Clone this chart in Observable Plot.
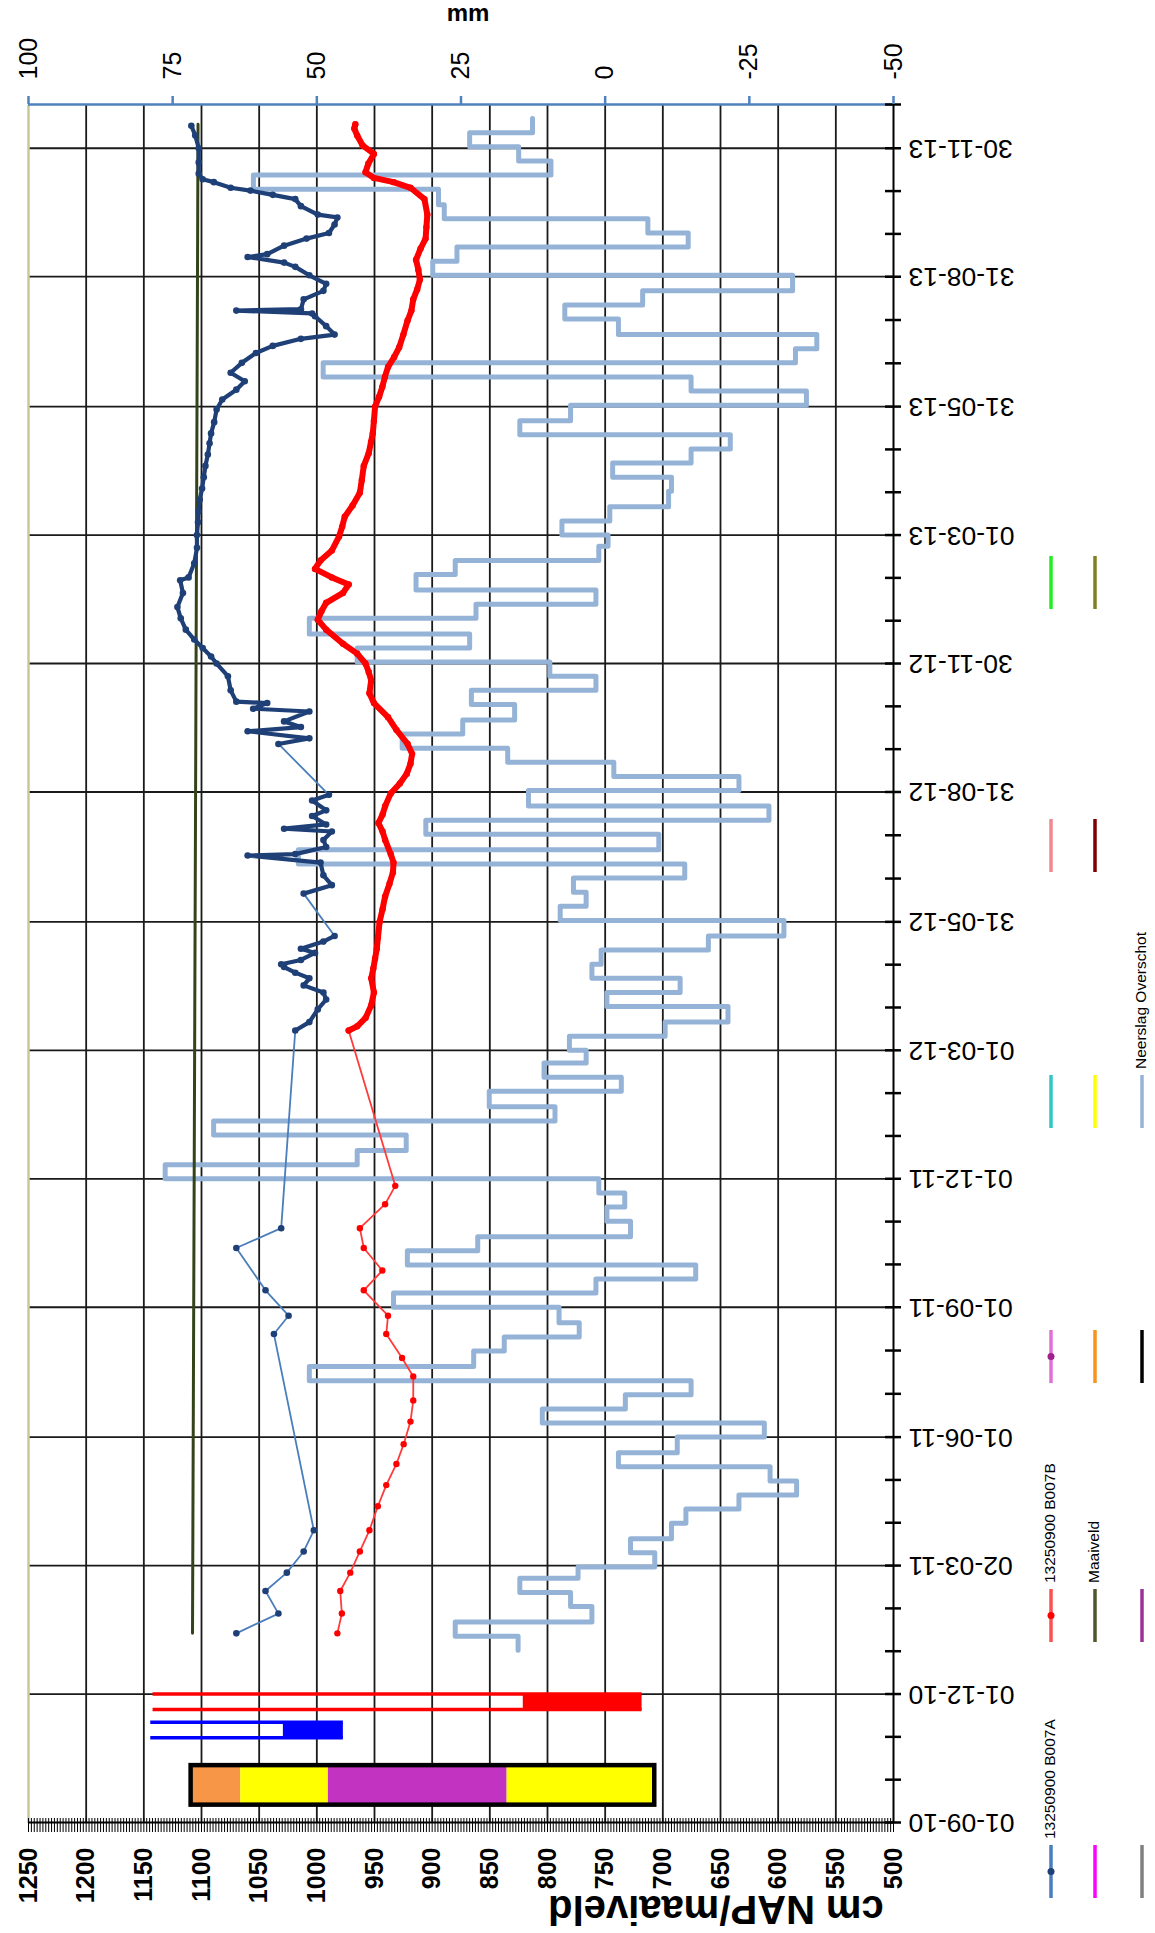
<!DOCTYPE html>
<html><head><meta charset="utf-8">
<script src="https://cdn.jsdelivr.net/npm/d3@7"></script>
<script src="https://cdn.jsdelivr.net/npm/@observablehq/plot@0.6"></script>
<style>
html,body{margin:0;padding:0;background:#fff;overflow:hidden;width:1155px;height:1933px}
#rot{position:absolute;left:0;top:0;width:1933px;height:1155px;transform-origin:0 0;transform:translate(0px,1933px) rotate(-90deg);background:#fff}
#chart svg{display:block}
#legend{position:absolute;left:0;top:1030px}
</style></head><body>
<div id="rot"><div id="chart"></div><svg id="legend" width="1933" height="125"></svg></div>
<script>
// ---------- data ----------
const cmTicks = [1250,1200,1150,1100,1050,1000,950,900,850,800,750,700,650,600,550,500];
const mmTicks = [100,75,50,25,0,-25,-50];
const dateDomain = ["2010-09-01","2013-12-31"];
const majorDates = ["2010-09-01","2010-12-01","2011-03-02","2011-06-01","2011-09-01","2011-12-01","2012-03-01","2012-05-31","2012-08-31","2012-11-30","2013-03-01","2013-05-31","2013-08-31","2013-11-30"];

const B007A = [["2011-01-13",1069.8],["2011-01-27",1033.3],["2011-02-12",1044.5],["2011-02-25",1026.0],["2011-03-12",1011.4],["2011-03-27",1002.6],
["2011-08-13",1037.2],["2011-08-26",1024.5],["2011-09-13",1044.5],["2011-10-13",1069.8],["2011-10-27",1030.9],
["2012-03-15",1018.7],["2012-03-21",1006.5],["2012-03-30",999.2],["2012-04-06",991.9],["2012-04-11",994.3],["2012-04-16",1011.4],["2012-04-21",1006.5],["2012-04-25",1018.7],["2012-04-29",1028.4],["2012-05-01",1030.9],["2012-05-04",1013.8],["2012-05-09",1001.6],["2012-05-12",1013.8],["2012-05-17",994.3],["2012-05-21",984.6],
["2012-06-20",1011.4],["2012-06-26",987.0],["2012-07-03",994.3],["2012-07-12",996.8],["2012-07-17",1060.0],["2012-07-18",1018.7],["2012-07-23",991.9],["2012-07-28",994.3],["2012-08-03",987.0],["2012-08-05",1028.4],["2012-08-08",991.9],["2012-08-14",1004.1],["2012-08-18",991.9],["2012-08-25",1004.1],["2012-08-29",989.5],
["2012-10-04",1033.3],["2012-10-08",1006.5],["2012-10-13",1060.0],["2012-10-16",1013.8],["2012-10-20",1028.4],["2012-10-27",1006.5],["2012-10-29",1055.2],["2012-11-02",1043.0],["2012-11-03",1069.8],["2012-11-11",1074.7],["2012-11-21",1077.1],["2012-11-30",1086.9],["2012-12-05",1091.7],["2012-12-11",1099.0],["2012-12-17",1106.3],["2012-12-24",1113.6],["2013-01-01",1118.0],["2013-01-09",1120.9],["2013-01-19",1116.1],["2013-01-28",1118.5],["2013-01-30",1111.2],["2013-02-09",1106.3],["2013-02-20",1103.9],["2013-03-01",1104.0],["2013-03-10",1103.0],["2013-03-18",1102.5],["2013-03-26",1101.5],["2013-04-03",1099.5],["2013-04-11",1098.0],["2013-04-19",1096.6],["2013-04-27",1094.5],["2013-05-05",1093.0],["2013-05-12",1091.7],["2013-05-20",1089.0],["2013-05-29",1086.9],["2013-06-05",1082.0],["2013-06-12",1069.8],["2013-06-18",1062.5],["2013-06-24",1074.7],["2013-07-01",1065.0],["2013-07-08",1052.8],["2013-07-13",1038.2],["2013-07-18",1013.8],["2013-07-21",984.6],["2013-07-27",991.9],["2013-08-03",1001.6],["2013-08-05",1004.1],["2013-08-07",1069.8],["2013-08-08",1013.8],["2013-08-15",1011.4],["2013-08-21",994.3],["2013-08-26",991.9],["2013-09-01",1006.5],["2013-09-07",1018.7],["2013-09-10",1028.4],["2013-09-14",1060.0],["2013-09-16",1043.0],["2013-09-22",1028.4],["2013-09-27",1008.9],["2013-10-01",989.5],["2013-10-07",984.6],["2013-10-12",982.2],["2013-10-14",999.2],["2013-10-20",1013.8],["2013-10-25",1018.7],["2013-10-28",1038.2],["2013-10-31",1057.6],["2013-11-02",1074.7],["2013-11-06",1089.3],["2013-11-08",1099.0],["2013-11-12",1102.4],["2013-11-20",1102.4],["2013-11-30",1102.4],["2013-12-09",1105.4],["2013-12-16",1108.8]];

const B007B = [["2011-01-13",982.2],["2011-01-27",978.3],["2011-02-12",979.7],["2011-02-25",971.0],["2011-03-12",962.7],["2011-03-27",954.4],["2011-04-13",947.1],["2011-04-28",939.8],["2011-05-13",931.0],["2011-05-27",924.7],["2011-06-12",918.8],["2011-06-27",916.4],["2011-07-14",916.4],["2011-07-27",926.1],["2011-08-13",939.8],["2011-08-26",938.3],["2011-09-13",959.3],["2011-09-27",943.2],["2011-10-13",959.3],["2011-10-27",962.7],["2011-11-13",940.8],["2011-11-26",932.0],
["2012-03-15",972.4],["2012-03-18",965.0],["2012-03-24",957.7],["2012-04-02",952.8],["2012-04-11",950.5],["2012-04-21",952.8],["2012-04-28",951.0],["2012-05-05",949.5],["2012-05-12",948.0],["2012-05-20",947.0],["2012-05-31",945.6],["2012-06-09",943.0],["2012-06-18",940.8],["2012-06-27",937.0],["2012-07-05",934.0],["2012-07-12",933.5],["2012-07-18",935.9],["2012-07-28",940.8],["2012-08-03",943.0],["2012-08-09",946.6],["2012-08-15",943.0],["2012-08-21",940.8],["2012-08-30",935.9],["2012-09-06",928.0],["2012-09-13",922.0],["2012-09-20",918.8],["2012-09-27",917.4],["2012-10-04",921.3],["2012-10-14",931.0],["2012-10-23",938.3],["2012-11-02",950.5],["2012-11-09",954.4],["2012-11-18",952.9],["2012-11-24",955.0],["2012-11-30",957.8],["2012-12-07",965.0],["2012-12-14",977.3],["2012-12-24",991.9],["2012-12-31",999.2],["2013-01-06",996.0],["2013-01-12",991.9],["2013-01-19",977.3],["2013-01-25",972.4],["2013-01-30",987.0],["2013-02-05",1001.6],["2013-02-11",996.8],["2013-02-18",987.0],["2013-02-28",980.7],["2013-03-07",978.0],["2013-03-14",975.8],["2013-03-22",969.0],["2013-03-31",962.7],["2013-04-09",961.0],["2013-04-19",959.3],["2013-04-28",955.0],["2013-05-06",953.0],["2013-05-12",951.5],["2013-05-21",950.5],["2013-05-31",949.5],["2013-06-07",946.0],["2013-06-14",943.2],["2013-06-21",941.0],["2013-06-28",938.3],["2013-07-05",933.0],["2013-07-12",928.6],["2013-07-21",925.0],["2013-07-31",921.3],["2013-08-07",918.0],["2013-08-15",916.4],["2013-08-22",913.0],["2013-08-29",910.6],["2013-09-05",912.0],["2013-09-12",914.0],["2013-09-20",910.0],["2013-09-27",905.7],["2013-10-05",905.0],["2013-10-14",904.2],["2013-10-25",906.7],["2013-11-02",918.8],["2013-11-06",933.5],["2013-11-09",950.5],["2013-11-13",957.8],["2013-11-19",955.4],["2013-11-26",950.5],["2013-12-02",960.3],["2013-12-09",965.0],["2013-12-14",967.5],["2013-12-17",966.6]];

const maaiveld = [["2011-01-13",1107.8],["2013-12-17",1103.0]];

// Neerslag overschot (mm), one value per dekad starting 2011-01-01
const neerslagStart = "2011-01-01";
const neerslagEnd = "2013-12-21";
const neerslag = [15.1,26.0,2.3,6.0,14.8,4.7,-8.6,-4.4,-11.5,-14.0,-23.2,-33.2,-28.6,-2.3,-12.5,-27.6,10.9,-3.5,
-14.9,51.3,22.8,17.5,4.5,8.0,36.7,1.6,-15.7,34.3,22.1,-4.4,-0.3,-3.4,1.1,76.3,43.0,34.5,
67.9,8.7,20.1,-2.8,10.6,3.3,6.2,-10.4,-21.3,-0.3,-13.0,2.3,0.7,-17.9,-31.0,7.8,3.3,5.5,
-13.8,53.2,-9.3,31.1,-28.4,13.3,-23.2,-1.5,16.9,35.2,24.7,15.7,23.2,1.6,9.6,43.0,23.5,51.3,
22.4,1.6,32.8,26.0,1.1,-0.5,7.5,-0.8,-11.0,-11.5,-1.3,-14.9,-21.7,14.8,6.0,-34.9,-14.9,48.9,
-33.0,-36.7,-2.3,7.0,-6.5,-32.5,29.9,25.7,-14.4,-7.4,27.9,28.9,61.0,9.4,15.0,23.5,12.6];

// soil profile (cm NAP layer boundaries) and its date span
const soilDates = ["2010-09-14","2010-10-12"];
const soilBounds = [1109, 1066, 990, 835, 707];
// filter tubes: [date1, date2, tube top, filter top, filter bottom]
const tubeB = ["2010-11-20","2010-12-01",1142,821,718];
const tubeA = ["2010-10-31","2010-11-11",1144,1029,977];

// legend entries
const legendLabels = ["13250900 B007A","13250900 B007B","Maaiveld","Neerslag Overschot"];

// ---------- styles ----------
const soilColors = ["#f79646","#ffff00","#c233c2","#ffff00"];
const FONT = "'Liberation Sans', Arial, Helvetica, sans-serif";

// ---------- helpers ----------
const D = s => new Date(s);
const mm2cm = v => 750 + 5 * v;
function withSegments(arr) {
  let seg = 0, prev = null;
  return arr.map(([d, v]) => {
    const date = D(d);
    if (prev && (date - prev) / 864e5 > 12.5) seg++;
    prev = date;
    return {date, v, seg};
  });
}
const A = withSegments(B007A), B = withSegments(B007B);
const dense = S => { const c = d3.rollup(S, g => g.length, d => d.seg); return S.filter(d => c.get(d.seg) >= 3); };
const denseA = dense(A), denseB = dense(B);

const n0 = D(neerslagStart);
const nData = neerslag.map((v, i) => ({date: new Date(Date.UTC(n0.getUTCFullYear(), n0.getUTCMonth() + Math.floor(i / 3), 1 + 10 * (i % 3))), v}));
nData.push({date: D(neerslagEnd), v: neerslag[neerslag.length - 1]});

const majors = majorDates.map(D);
const minors = [];
for (let i = 0; i < majors.length - 1; i++) {
  const a = +majors[i], b = +majors[i + 1];
  minors.push(new Date(a + (b - a) / 3), new Date(a + 2 * (b - a) / 3));
}
minors.push(D(dateDomain[1]));
const cmMinor = d3.range(500, 1250.1, 2.5);

const soilLayers = soilColors.map((c, i) => ({top: soilBounds[i], bottom: soilBounds[i + 1], c}));

const tubeMarks = (t, color) => [
  Plot.rect([t], {x1: d => D(d[0]), x2: d => D(d[1]), y1: d => d[3], y2: d => d[4], fill: color}),
  Plot.ruleX([t], {x: d => D(d[0]), y1: d => d[2], y2: d => d[4], stroke: color, strokeWidth: 3.5}),
  Plot.ruleX([t], {x: d => D(d[1]), y1: d => d[2], y2: d => d[4], stroke: color, strokeWidth: 3.5})
];

const plot = Plot.plot({
  width: 1933, height: 1030,
  marginLeft: 110, marginRight: 105, marginTop: 28, marginBottom: 137,
  x: {type: "utc", domain: dateDomain.map(D)},
  y: {domain: [500, 1250]},
  style: {fontFamily: FONT, background: "#fff", color: "#000"},
  marks: [
    Plot.ruleY(cmTicks.slice(1, -1), {stroke: "#1a1a1a", strokeWidth: 1.8}),
    Plot.ruleX(majors.slice(1), {stroke: "#1a1a1a", strokeWidth: 1.8}),
    Plot.ruleY([1250], {stroke: "#c8c896", strokeWidth: 2.5}),
    // soil profile
    ...soilLayers.map(l => Plot.rect([l], {x1: () => D(soilDates[0]), x2: () => D(soilDates[1]), y1: "top", y2: "bottom", fill: l.c})),
    Plot.rect([0], {x1: () => D(soilDates[0]), x2: () => D(soilDates[1]), y1: () => soilBounds[0], y2: () => soilBounds[4], fill: "none", stroke: "#000", strokeWidth: 4.5}),
    ...tubeMarks(tubeB, "#ff0000"),
    ...tubeMarks(tubeA, "#0000ff"),
    // neerslag (secondary axis, mm)
    Plot.line(nData, {x: "date", y: d => mm2cm(d.v), curve: "step-after", stroke: "#95b3d7", strokeWidth: 5}),
    // maaiveld
    Plot.line(maaiveld, {x: d => D(d[0]), y: d => d[1], stroke: "#34441a", strokeWidth: 3}),
    // B007A
    Plot.line(A, {x: "date", y: "v", stroke: "#4a7ebb", strokeWidth: 1.8}),
    Plot.line(denseA, {x: "date", y: "v", z: "seg", stroke: "#1f3f77", strokeWidth: 4.2}),
    Plot.dot(A, {x: "date", y: "v", r: 3.3, fill: "#1f3f77"}),
    // B007B
    Plot.line(B, {x: "date", y: "v", stroke: "#ff3b3b", strokeWidth: 1.8}),
    Plot.line(denseB, {x: "date", y: "v", z: "seg", stroke: "#ff0000", strokeWidth: 6}),
    Plot.dot(B, {x: "date", y: "v", r: 3.2, fill: "#ff0000"}),
    // axes
    Plot.ruleX([D(dateDomain[0])], {stroke: "#000", strokeWidth: 2}),
    Plot.ruleY([500], {stroke: "#000", strokeWidth: 2}),
    Plot.ruleX([D(dateDomain[1])], {stroke: "#4f81bd", strokeWidth: 2.5}),
    Plot.axisY({anchor: "left", ticks: cmMinor, tickSize: 14, dx: 5, fill: "none", stroke: "#000", strokeWidth: 1, label: null}),
    Plot.axisY({anchor: "left", ticks: cmTicks, tickSize: 0, tickPadding: 25, fontSize: 25, fontWeight: "bold", tickFormat: d => String(d), label: null}),
    Plot.axisX({anchor: "bottom", ticks: majors.concat(minors), tickSize: 16, dy: -8, fill: "none", stroke: "#000", strokeWidth: 2.5, label: null}),
    Plot.axisX({anchor: "bottom", ticks: majors, tickSize: 0, tickPadding: 15, tickRotate: -90, tickFormat: d3.utcFormat("%d-%m-%y"), fontSize: 26.5, label: null}),
    Plot.axisY({anchor: "right", ticks: mmTicks.map(mm2cm), tickSize: 8, tickPadding: 17, stroke: "#4f81bd", strokeWidth: 2.5, tickFormat: v => String((v - 750) / 5), fontSize: 25, label: null})
  ]
});
document.getElementById("chart").appendChild(plot);

const svg = d3.select(plot);
svg.append("text").attr("transform", "translate(37,716) rotate(-90)").attr("text-anchor", "middle")
  .style("font", `bold 40px ${FONT}`).attr("fill", "#000").text("cm NAP/maaiveld");
svg.append("text").attr("transform", "translate(1918,468) rotate(90)").attr("text-anchor", "middle").attr("dominant-baseline", "middle")
  .style("font", `bold 24px ${FONT}`).attr("fill", "#000").text("mm");

// ---------- legend ----------
const lg = d3.select("#legend");
const cols = [35, 291, 550, 805, 1061, 1324], rows = [21, 65, 112];
const items = [
  [0,0,"#4a7ebb","#1f3f77",legendLabels[0]],[0,1,"#ff00ff",null,""],[0,2,"#808080",null,""],
  [1,0,"#ff5050","#ff0000",legendLabels[1]],[1,1,"#4b5a2a",null,legendLabels[2]],[1,2,"#993399",null,""],
  [2,0,"#e070d8","#a0208c",""],[2,1,"#f7931e",null,""],[2,2,"#000000",null,""],
  [3,0,"#33c6c6",null,""],[3,1,"#ffff00",null,""],[3,2,"#95b3d7",null,legendLabels[3]],
  [4,0,"#f08890",null,""],[4,1,"#7f0000",null,""],
  [5,0,"#22ee22",null,""],[5,1,"#808020",null,""]
];
for (const [c, r, col, mk, label] of items) {
  const x = cols[c], y = rows[r];
  lg.append("line").attr("x1", x).attr("x2", x + 53).attr("y1", y).attr("y2", y).attr("stroke", col).attr("stroke-width", 3.5);
  if (mk) lg.append("circle").attr("cx", x + 26.5).attr("cy", y).attr("r", 3.5).attr("fill", mk);
  if (label) lg.append("text").attr("x", x + 59).attr("y", y).attr("dominant-baseline", "middle")
    .style("font", `15.5px ${FONT}`).attr("fill", "#000").text(label);
}
</script></body></html>
